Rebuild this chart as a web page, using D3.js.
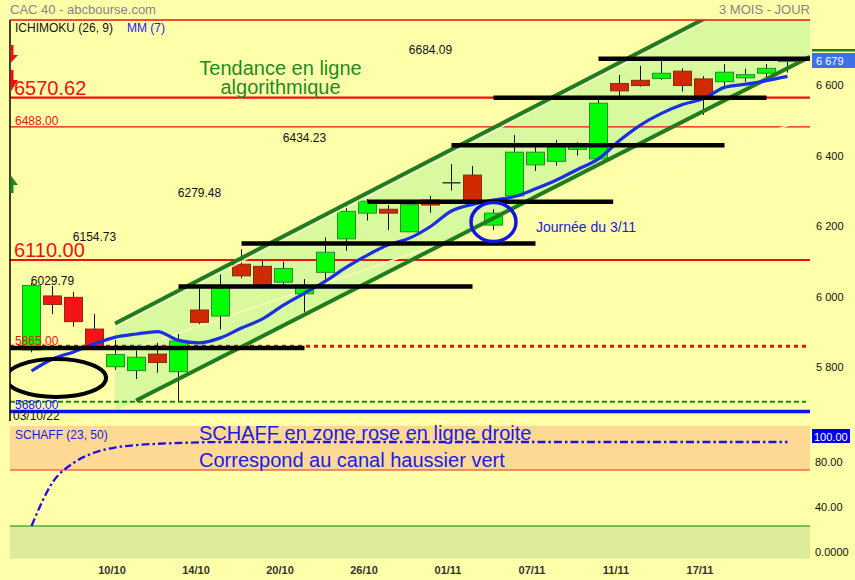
<!DOCTYPE html>
<html><head><meta charset="utf-8">
<script src="https://cdn.jsdelivr.net/npm/d3@7"></script>
<style>
body{margin:0;background:#ffffaa;}
svg{display:block;font-family:"Liberation Sans",Arial,sans-serif;}
</style>
</head><body>
<svg id="c" width="855" height="580"></svg>
<script>
// ---------- DATA ----------
const dates = ["04/10","05/10","06/10","07/10","10/10","11/10","12/10","13/10","14/10","17/10","18/10","19/10","20/10","21/10","24/10","25/10","26/10","27/10","28/10","31/10","01/11","02/11","03/11","04/11","07/11","08/11","09/11","10/11","11/11","14/11","15/11","16/11","17/11","18/11","21/11","22/11","23/11"];
const opens  = [5855,6008,6004,5914,5807,5796,5843,5793,5968,5951,6098,6092,6047,6014,6075,6170,6243,6254,6190,6280,6329,6351,6209,6292,6380,6390,6424,6397,6611,6620,6625,6646,6624,6616,6627,6640,6673];
const highs  = [6045,6036,6019,5957,5883,5853,5875,5900,6039,6069,6140,6108,6105,6056,6174,6266,6283,6266,6280,6292,6382,6377,6254,6465,6431,6451,6445,6564,6635,6661,6675,6654,6632,6666,6653,6666,6684];
const lows   = [5848,5957,5921,5855,5798,5772,5790,5710,5928,5913,6058,6030,6030,5962,6044,6136,6222,6195,6189,6244,6307,6275,6195,6289,6363,6378,6406,6394,6575,6602,6622,6588,6522,6605,6616,6618,6642];
const closes = [6038,5984,5935,5863,5842,5834,5819,5880,5933,6033,6065,6040,6086,6036,6132,6248,6277,6243,6267,6266,6330,6275,6243,6416,6416,6432,6432,6555,6590,6605,6640,6605,6573,6643,6636,6654,6679];
const mm7    = [5795,5829,5849,5872,5891,5900,5907,5882,5875,5889,5917,5943,5982,6016,6050,6090,6124,6153,6172,6205,6249,6268,6280,6290,6312,6337,6367,6397,6449,6493,6526,6551,6568,6600,6609,6619,6631];
const schaff = [25,63.8,81.3,90.6,95.1,97.3,98.4,99.1,99.7,100,100,100,100,100,100,100,100,100,100,100,100,100,100,100,100,100,100,100,100,100,100,100,100,100,100,100,100];
const priceTicks = [5800,6000,6200,6400,6600];
const schaffTicks = [0,40,80];
const dateTickLabels = ["10/10","14/10","20/10","26/10","01/11","07/11","11/11","17/11"];
const lastPrice = 6679;
const bigLevels = [6570.62, 6110.00];
const smallLevels = [6488.00, 5865.00];
const supportLevel = 5680.00;
const dashedGreenLevel = 5708;
const levelLines = [
  {v:5860, from:-1.02, to:13},
  {v:6035, from:7, to:21},
  {v:6157, from:10, to:24},
  {v:6275, from:16, to:27.7},
  {v:6436, from:20, to:33},
  {v:6570.62, from:22, to:35},
  {v:6681, from:27, to:37.07}
];
const ichiLabels = [
  {v:6029.79, i:1}, {v:6154.73, i:3}, {v:6279.48, i:8}, {v:6434.23, i:13}, {v:6684.09, i:19}
];
const channelUpper = [[3.98,5930],[37.07,6950]];
const channelLower = [[4.98,5711],[37.07,6687]];
const paleLine = [[3.55,5832],[37.07,6513]];
const circle3_11 = {i:22, v:6218};
const ellipseOld = {i:1.17, v:5775};

// ---------- LAYOUT ----------
const L=10, R=810, T=20, B=421;
const svg = d3.select("#c");
const x = d3.scaleLinear().domain([0, dates.length-1]).range([31.5, 787.5]);
const y = d3.scaleLinear().domain([6110, 6570.62]).range([260, 97.7]);
const ys = d3.scaleLinear().domain([0,100]).range([554, 442]);
const font = '"Liberation Sans",Arial,sans-serif';
const BG = "#ffffaa";

svg.append("rect").attr("width",855).attr("height",580).attr("fill",BG);

const defs = svg.append("defs");
defs.append("clipPath").attr("id","plot").append("rect").attr("x",L).attr("y",T).attr("width",R-L).attr("height",B-T);
const g = svg.append("g").attr("clip-path","url(#plot)");

// channel fill
const lerp = (seg, i) => seg[0][1] + (seg[1][1]-seg[0][1])*(i-seg[0][0])/(seg[1][0]-seg[0][0]);
const i0 = channelUpper[0][0], iE = channelUpper[1][0];
const poly = [[i0, channelUpper[0][1]],[iE, channelUpper[1][1]],[iE, lerp(channelLower,iE)],[i0, lerp(channelLower,i0)]];
g.append("path").attr("d", d3.line().x(d=>x(d[0])).y(d=>y(d[1]))(poly)+"Z").attr("fill","#d9f99f");

// horizontal levels
const hline = (v, w, col, dash) => {
  const l = g.append("line").attr("x1",L).attr("x2",R).attr("y1",y(v)).attr("y2",y(v))
    .attr("stroke",col).attr("stroke-width",w);
  if (dash) l.attr("stroke-dasharray",dash);
  return l;
};
hline(bigLevels[0], 2.2, "#ee1111");
hline(bigLevels[1], 2.2, "#ee1111");
hline(smallLevels[0], 1.2, "#ee1111");
hline(smallLevels[1], 3, "#ee1111", "4,4").attr("x2",806);
hline(dashedGreenLevel, 2, "#138a13", "5,3").attr("x2",806);
hline(supportLevel, 3.5, "#1111ee");

// pale line (drawn in near-background colour)
g.append("line").attr("x1",x(paleLine[0][0])).attr("y1",y(paleLine[0][1]))
  .attr("x2",x(paleLine[1][0])).attr("y2",y(paleLine[1][1]))
  .attr("stroke","#fcfcb8").attr("stroke-width",1.6);

// candles
const cw = 18;
dates.forEach((d,i)=>{
  const cx = x(i);
  g.append("line").attr("x1",cx).attr("x2",cx).attr("y1",y(highs[i])).attr("y2",y(lows[i]))
    .attr("stroke","#111").attr("stroke-width",1);
  const o=opens[i], c=closes[i];
  if (Math.abs(c-o) < 3) {
    g.append("line").attr("x1",cx-cw/2).attr("x2",cx+cw/2).attr("y1",y(o)).attr("y2",y(o))
      .attr("stroke","#111").attr("stroke-width",1.2);
  } else {
    const up = c>o;
    g.append("rect").attr("x",cx-cw/2).attr("width",cw)
      .attr("y",y(Math.max(o,c))).attr("height",Math.abs(y(o)-y(c)))
      .attr("fill", up ? "#00ff00" : (i<4 ? "#f41414" : "#cf2a00"))
      .attr("stroke", up ? "#2a8c2a" : "#8a2a10").attr("stroke-width",1);
  }
});

// channel lines
const chLine = seg => g.append("line").attr("x1",x(seg[0][0])).attr("y1",y(seg[0][1]))
  .attr("x2",x(seg[1][0])).attr("y2",y(seg[1][1])).attr("stroke","#1f7d1f").attr("stroke-width",4);
g.append("line").attr("x1",x(channelUpper[0][0])).attr("y1",y(channelUpper[0][1])+3.5)
  .attr("x2",x(channelUpper[1][0])).attr("y2",y(channelUpper[1][1])+3.5)
  .attr("stroke","#f6f8cc").attr("stroke-width",1.5);
chLine(channelUpper);
chLine(channelLower);

// moving average
g.append("path").datum(mm7).attr("fill","none").attr("stroke","#1b2fe0").attr("stroke-width",3.2)
  .attr("d", d3.line().x((d,i)=>x(i)).y(d=>y(d)).curve(d3.curveMonotoneX));

// black level lines
levelLines.forEach(l=>{
  g.append("line").attr("x1",x(l.from)).attr("x2",x(l.to)).attr("y1",y(l.v)).attr("y2",y(l.v))
    .attr("stroke","#000").attr("stroke-width",4.5);
});

// annotations
g.append("ellipse").attr("cx",x(ellipseOld.i)).attr("cy",y(ellipseOld.v)).attr("rx",50).attr("ry",19)
  .attr("fill","none").attr("stroke","#000").attr("stroke-width",4);
g.append("ellipse").attr("cx",x(circle3_11.i)).attr("cy",y(circle3_11.v)).attr("rx",22.5).attr("ry",19.5)
  .attr("fill","none").attr("stroke","#1414e6").attr("stroke-width",3.5);

// top frame & left border
svg.append("line").attr("x1",L).attr("x2",R).attr("y1",T).attr("y2",T).attr("stroke","#ee1111").attr("stroke-width",1.5);
svg.append("line").attr("x1",L).attr("x2",L).attr("y1",T).attr("y2",B).attr("stroke","#000").attr("stroke-width",1.5);

// left markers
svg.append("path").attr("d","M10.5,45 L13.5,45 L13.5,55 L18,55 L10.5,63 Z").attr("fill","#ee1111");
svg.append("path").attr("d","M10.5,70 L13.5,70 L13.5,80 L18,80 L10.5,92 Z").attr("fill","#ee1111");
svg.append("path").attr("d","M10.5,175 L18,185 L13.5,185 L13.5,193 L10.5,193 Z").attr("fill","#1b8a1b");

// texts in main panel
const txt = (s, px, py, size, col, opts={}) => {
  const t = svg.append("text").attr("x",px).attr("y",py).attr("font-size",size).attr("fill",col)
    .attr("font-family",font).text(s);
  if (opts.anchor) t.attr("text-anchor",opts.anchor);
  if (opts.weight) t.attr("font-weight",opts.weight);
  return t;
};
txt("CAC 40 - abcbourse.com", 10, 14, 13, "#858585");
txt("3 MOIS - JOUR", 810, 14, 13, "#858585", {anchor:"end"});
txt("ICHIMOKU (26, 9)", 15, 32, 12, "#111");
txt("MM (7)", 127, 32, 12, "#1a1aff");
txt(d3.format(".2f")(bigLevels[0]), 14, 95, 20, "#ee1111");
txt(d3.format(".2f")(bigLevels[1]), 14, 257, 20, "#ee1111");
txt(d3.format(".2f")(smallLevels[0]), 15, 124.5, 12, "#ee1111");
txt(d3.format(".2f")(smallLevels[1]), 15, 344.5, 12, "#ee1111");
txt(d3.format(".2f")(supportLevel), 15, 408.5, 12, "#1111ee");
txt("03/10/22", 13, 420, 12, "#111");
ichiLabels.forEach(l=> txt(d3.format(".2f")(l.v), x(l.i), y(l.v)-3.3, 12, "#111", {anchor:"middle"}));
txt("Tendance en ligne", 280.5, 75, 20, "#1f8a1f", {anchor:"middle"});
txt("algorithmique", 280.5, 93.5, 20, "#1f8a1f", {anchor:"middle"});
txt("Journée du 3/11", 536, 232, 14, "#1a1ae0");

// right price axis
const ay = svg.append("g").attr("transform",`translate(${R},-2)`)
  .call(d3.axisRight(y).tickValues(priceTicks).tickSize(0).tickPadding(6)
    .tickFormat(d=>d3.format(",")(d).replace(/,/g," ")));
ay.select(".domain").remove();
ay.selectAll("text").attr("font-size",11).attr("font-family",font).attr("fill","#111");
svg.append("rect").attr("x",812).attr("y",49).attr("width",43).attr("height",2.5).attr("fill","#1f7d1f");
svg.append("rect").attr("x",812).attr("y",53).attr("width",43).attr("height",15).attr("fill","#3f70e6");
txt(d3.format(",")(lastPrice).replace(/,/g," "), 816, y(lastPrice)+5.5, 11, "#fff");

// ---------- SCHAFF panel ----------
svg.append("rect").attr("x",L).attr("y",426).attr("width",R-L).attr("height",ys(75)-426).attr("fill","#fdd994");
svg.append("rect").attr("x",L).attr("y",ys(25)).attr("width",R-L).attr("height",558.7-ys(25)).attr("fill","#dbeb9a");
svg.append("line").attr("x1",L).attr("x2",R).attr("y1",ys(75)).attr("y2",ys(75)).attr("stroke","#f26a4a").attr("stroke-width",1.5);
svg.append("line").attr("x1",L).attr("x2",R).attr("y1",ys(25)).attr("y2",ys(25)).attr("stroke","#5aa83a").attr("stroke-width",1.5);
svg.append("path").datum(schaff).attr("fill","none").attr("stroke","#2010e6").attr("stroke-width",2.3)
  .attr("stroke-dasharray","8,3,2.5,3")
  .attr("d", d3.line().x((d,i)=>x(i)).y(d=>ys(d)).curve(d3.curveMonotoneX));
txt("SCHAFF (23, 50)", 15, 438.5, 12, "#1a1ae6");
txt("SCHAFF en zone rose en ligne droite", 199, 440, 20, "#1a1aee");
txt("Correspond au canal haussier vert", 199, 467, 20, "#1a1aee");

const as = svg.append("g").attr("transform",`translate(${R},-2.4)`)
  .call(d3.axisRight(ys).tickValues(schaffTicks).tickSize(0).tickPadding(5)
    .tickFormat(d=> d===0 ? "0.0000" : d3.format(".2f")(d)));
as.select(".domain").remove();
as.selectAll("text").attr("font-size",11).attr("font-family",font).attr("fill","#111");
svg.append("rect").attr("x",812).attr("y",429).attr("width",38).attr("height",14).attr("fill","#0000ee");
txt(d3.format(".2f")(100), 814, 440.5, 11, "#fff");

// ---------- X axis ----------
const tickIdx = dateTickLabels.map(s=>dates.indexOf(s));
const ax = svg.append("g").attr("transform","translate(-4,563)")
  .call(d3.axisBottom(x).tickValues(tickIdx).tickSize(0).tickPadding(3).tickFormat(i=>dates[i]));
ax.select(".domain").remove();
ax.selectAll("text").attr("font-size",11).attr("font-weight","bold").attr("font-family",font).attr("fill","#333");
</script>
</body></html>
